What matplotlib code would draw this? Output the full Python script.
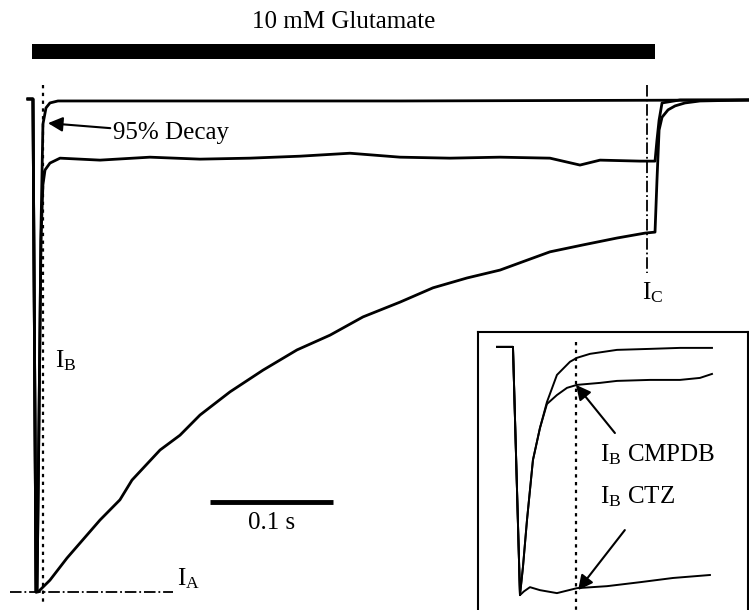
import matplotlib
matplotlib.use('Agg')
import matplotlib.pyplot as plt
import numpy as np

# main traces: time in ms after glutamate onset, current normalised to peak (0 = baseline, -1 = peak)
t_control = [-3.3, 0.8, 3.3, 4.1, 5.7, 7.3, 8.9, 11.4, 14.6, 21.1, 300.0, 583.0]
i_control = [0.0, 0.0, -1.0, -0.996, -0.651, -0.266, -0.051, -0.018, -0.008, -0.004, -0.004, -0.002]

t_cmpdb = [-3.3, 0.8, 3.3, 4.1, 5.7, 7.3, 8.9, 10.6, 14.6, 22.8, 55.3, 95.9, 136.6, 177.2, 217.9,
	258.5, 299.2, 339.8, 380.5, 421.1, 445.5, 461.8, 494.3, 506.5, 508.1, 509.8, 512.2, 526.8, 583.0]
i_cmpdb = [0.0, 0.0, -1.0, -0.996, -0.651, -0.286, -0.174, -0.144, -0.130, -0.120, -0.124, -0.118, -0.122, -0.120, -0.116,
	-0.110, -0.118, -0.120, -0.118, -0.120, -0.134, -0.124, -0.126, -0.126, -0.083, -0.043, -0.008, -0.002, -0.002]

t_ctz = [-3.3, 0.8, 3.3, 4.9, 14.6, 28.5, 55.3, 71.5, 81.3, 104.1, 120.3, 136.6, 161.0, 187.8, 215.4, 242.3,
	269.1, 299.2, 326.0, 353.7, 380.5, 402.4, 421.1, 447.9, 475.6, 498.4, 506.5, 508.1, 509.8, 512.2, 517.1,
	522.8, 530.9, 543.1, 583.0]
i_ctz = [0.0, 0.0, -1.0, -1.0, -0.976, -0.931, -0.854, -0.813, -0.773, -0.712, -0.682, -0.641, -0.594, -0.550, -0.509, -0.479,
	-0.442, -0.412, -0.383, -0.363, -0.347, -0.327, -0.310, -0.296, -0.282, -0.272, -0.270, -0.164, -0.063, -0.037, -0.022,
	-0.014, -0.008, -0.004, -0.002]

# inset traces (first ~30 ms, expanded)
ti_control = [-2.26, 0.0, 0.99, 1.41, 1.98, 2.82, 3.81, 4.80, 6.21, 8.05, 9.04, 10.88, 14.69, 19.35, 23.59, 28.11]
ii_control = [0.0, 0.0, -1.0, -0.887, -0.698, -0.456, -0.327, -0.222, -0.113, -0.060, -0.044, -0.028, -0.012, -0.008, -0.004, -0.004]

ti_cmpdb = [-2.26, 0.0, 0.99, 1.41, 1.98, 2.82, 3.81, 4.80, 6.21, 7.63, 9.04, 12.29, 14.69, 19.35, 23.59, 26.41, 28.11]
ii_cmpdb = [0.0, 0.0, -1.0, -0.887, -0.698, -0.456, -0.327, -0.230, -0.194, -0.165, -0.153, -0.145, -0.137, -0.133, -0.133, -0.125, -0.109]

ti_ctz = [-2.26, 0.0, 0.99, 1.55, 2.40, 3.81, 6.21, 9.04, 13.28, 17.94, 22.60, 27.82]
ii_ctz = [0.0, 0.0, -1.0, -0.985, -0.968, -0.980, -0.992, -0.972, -0.964, -0.948, -0.931, -0.919]

glu_on, glu_off = 0.0, 506.5
t_95 = 8.9      # 95 % decay time of control
t_ic = 500.0    # I_C measuring time

plt.rcParams['font.family'] = 'Liberation Serif'
plt.rcParams['mathtext.fontset'] = 'custom'
plt.rcParams['mathtext.rm'] = 'Liberation Serif'
plt.rcParams['mathtext.it'] = 'Liberation Serif:italic'
FS = 18


def plot_main(fig):
	ax = fig.add_axes([0, 0, 1, 1])
	ax.set_xlim(-26.0, 582.9)
	ax.set_ylim(-1.0365, 0.2008)
	ax.axis('off')

	for t, i in [(t_ctz, i_ctz), (t_cmpdb, i_cmpdb), (t_control, i_control)]:
		ax.plot(t, i, color='k', lw=2.0, solid_joinstyle='round')

	# glutamate application bar
	ax.fill_between([glu_on, glu_off], 0.081, 0.112, color='k', lw=0)
	ax.text((glu_on + glu_off) / 2, 0.156, '10 mM Glutamate', ha='center', va='center', fontsize=FS)

	# measurement markers
	ax.plot([t_95, t_95], [0.028, -1.022], color='k', ls=(0, (1.5, 2)), lw=1.6)
	ax.plot([-17.9, 114.6], [-1.0, -1.0], color='k', ls='-.', lw=1.3)
	ax.plot([t_ic, t_ic], [0.028, -0.353], color='k', ls='-.', lw=1.3)

	ax.text(118, -0.972, r'$\mathrm{I_A}$', fontsize=FS, va='center')
	ax.text(18.5, -0.53, r'$\mathrm{I_B}$', fontsize=FS, va='center')
	ax.text(496, -0.393, r'$\mathrm{I_C}$', fontsize=FS, va='center')

	ax.annotate('95% Decay', xy=(13.0, -0.049), xytext=(65.9, -0.069), fontsize=FS, va='center',
		arrowprops=dict(arrowstyle='-|>', color='k', lw=1.5, mutation_scale=22, shrinkA=0, shrinkB=0))

	# 0.1 s scale bar
	ax.plot([145, 245], [-0.817, -0.817], color='k', lw=3.5, solid_capstyle='butt')
	ax.text(195, -0.86, '0.1 s', ha='center', va='center', fontsize=FS)


def plot_inset(fig):
	ax = fig.add_axes([478 / 749, 0.0, 270 / 749, 278 / 610])
	ax.set_xlim(-4.94, 33.2)
	ax.set_ylim(-1.06, 0.06)
	ax.set_xticks([])
	ax.set_yticks([])
	ax.spines['bottom'].set_visible(False)
	for s in ['top', 'left', 'right']:
		ax.spines[s].set_linewidth(1.5)

	for t, i in [(ti_ctz, ii_ctz), (ti_cmpdb, ii_cmpdb), (ti_control, ii_control)]:
		ax.plot(t, i, color='k', lw=1.4)

	ax.plot([t_95, t_95], [0.02, -1.06], color='k', ls=(0, (1.5, 2)), lw=1.6)

	ax.text(12.3, -0.435, r'$\mathrm{I_B}$ CMPDB', fontsize=FS, va='center')
	ax.text(12.3, -0.605, r'$\mathrm{I_B}$ CTZ', fontsize=FS, va='center')
	ax.annotate('', xy=(8.9, -0.153), xytext=(14.4, -0.347),
		arrowprops=dict(arrowstyle='-|>', color='k', lw=1.5, mutation_scale=22, shrinkA=0, shrinkB=0))
	ax.annotate('', xy=(9.2, -0.98), xytext=(15.8, -0.738),
		arrowprops=dict(arrowstyle='-|>', color='k', lw=1.5, mutation_scale=22, shrinkA=0, shrinkB=0))


def main():
	fig = plt.figure(figsize=(7.49, 6.10), dpi=100)
	plot_main(fig)
	plot_inset(fig)
	fig.savefig('out.png', dpi=100)


if __name__ == "__main__":
	main()
